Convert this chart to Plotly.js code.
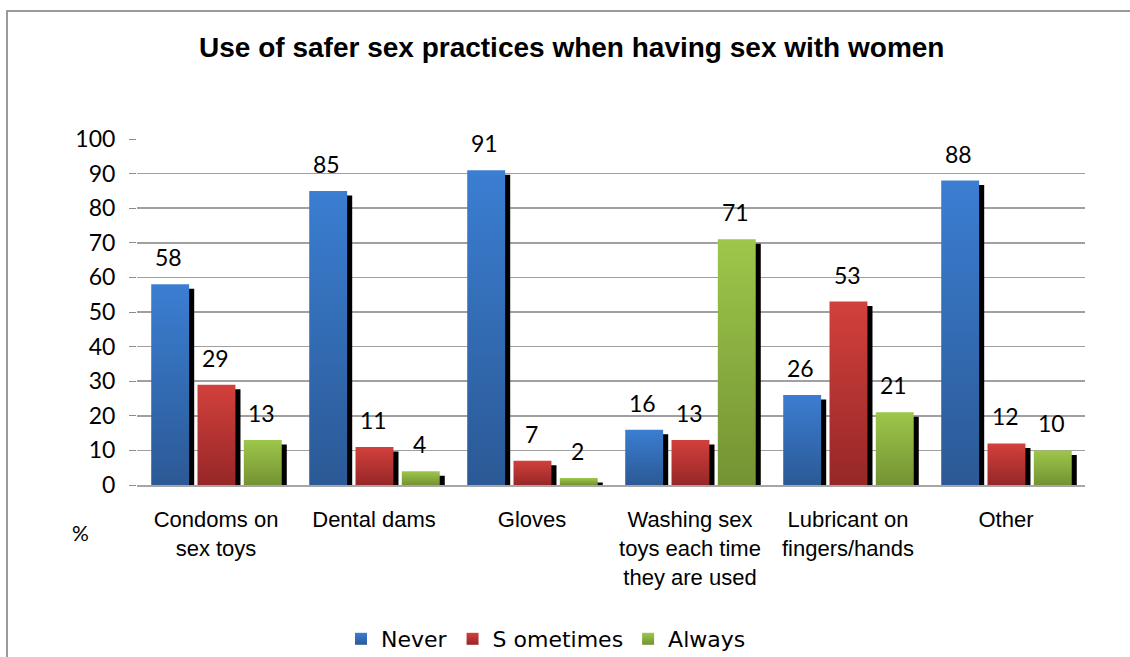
<!DOCTYPE html>
<html>
<head>
<meta charset="utf-8">
<script src="https://cdn.plot.ly/plotly-3.0.1.min.js"></script>
<style>
  html, body { margin: 0; padding: 0; background: #fff; }
  #frame { position: absolute; left: 6px; top: 10px; width: 1300px; height: 800px; border: 2px solid #9a9a9a; box-sizing: border-box; }
  #chart { position: absolute; left: 0; top: 0; width: 1130px; height: 657px; }
</style>
</head>
<body>
<div id="frame"></div>
<div id="chart"></div>
<script>
// ---- data ----
const categories = ["Condoms on<br>sex toys", "Dental dams", "Gloves", "Washing sex<br>toys each time<br>they are used", "Lubricant on<br>fingers/hands", "Other"];
const seriesNames = ["Never", "S ometimes", "Always"];
const never = [58, 85, 91, 16, 26, 88];
const sometimes = [29, 11, 7, 13, 53, 12];
const always = [13, 4, 2, 71, 21, 10];
const yTicks = [0, 10, 20, 30, 40, 50, 60, 70, 80, 90, 100];

// ---- styling ----
const values = [never, sometimes, always];
const baseColors = ["#3569b5", "#b93434", "#8aae42"];
const gradStops = [["#3b7ed2", "#2b5995"], ["#d2403c", "#962727"], ["#9dc74a", "#749233"]];
const barWidth = 0.24;
const offsets = [-0.41, -0.117, 0.176];
const shadowDx = 0.032;
const shadowDrop = 1.3;

const traces = [];
// shadows first (drawn behind)
values.forEach((vals, i) => {
  traces.push({
    type: "bar", x: categories, y: vals.map(v => Math.max(v - shadowDrop, 0.4)),
    width: barWidth, offset: offsets[i] + shadowDx,
    marker: { color: "#000000", line: { width: 0 } },
    showlegend: false, hoverinfo: "skip"
  });
});
values.forEach((vals, i) => {
  traces.push({
    type: "bar", name: seriesNames[i], x: categories, y: vals,
    width: barWidth, offset: offsets[i],
    marker: { color: baseColors[i], line: { width: 0 } },
    hoverinfo: "skip"
  });
});

const annotations = [];
values.forEach((vals, i) => {
  vals.forEach((v, j) => {
    annotations.push({
      xref: "x", yref: "y", x: j + offsets[i] + barWidth / 2 - 0.008, y: v,
      text: String(v), showarrow: false, yanchor: "bottom", xanchor: "center", yshift: 11,
      font: { family: "Lato, 'Open Sans', sans-serif", size: 23, color: "#000" }
    });
  });
});
annotations.push({
  xref: "paper", yref: "paper", x: (80 - 137) / 948, y: (485 - 532) / 346,
  text: "%", showarrow: false, xanchor: "center", yanchor: "middle",
  font: { family: "Lato, sans-serif", size: 21, color: "#000" }
});

const layout = {
  width: 1130, height: 657,
  margin: { l: 137, r: 45, t: 139, b: 172, pad: 0, autoexpand: false },
  paper_bgcolor: "rgba(0,0,0,0)", plot_bgcolor: "rgba(0,0,0,0)",
  barmode: "overlay",
  showlegend: true,
  title: {
    text: "<b>Use of safer sex practices when having sex with women</b>",
    x: 0.506, xref: "container", xanchor: "center",
    y: 1 - 47 / 657, yref: "container", yanchor: "middle",
    font: { family: "'Liberation Sans', Arial, sans-serif", size: 28, color: "#000" }
  },
  xaxis: {
    type: "category", range: [-0.5, 5.5], showgrid: false,
    showline: true, linecolor: "#a6a6a6", linewidth: 2,
    ticks: "", ticklabelstandoff: 14,
    tickfont: { family: "'Liberation Sans', Arial, sans-serif", size: 22, color: "#000" },
    fixedrange: true
  },
  yaxis: {
    range: [0, 100], tickvals: yTicks, ticktext: yTicks.map(String),
    showgrid: true, gridcolor: "#a0a0a0", gridwidth: 1.5,
    zeroline: false, showline: false,
    ticks: "outside", ticklen: 7, tickcolor: "#8c8c8c", tickwidth: 1,
    ticklabelstandoff: 9,
    tickfont: { family: "Lato, 'Open Sans', sans-serif", size: 23, color: "#000" },
    fixedrange: true
  },
  legend: {
    orientation: "h", x: (546 - 137) / 948, xanchor: "center",
    y: (485 - 639) / 346, yanchor: "middle",
    font: { family: "'DejaVu Sans', sans-serif", size: 22, color: "#000" },
    itemclick: false, itemdoubleclick: false
  },
  annotations: annotations
};

Plotly.newPlot("chart", traces, layout, { displayModeBar: false, staticPlot: true }).then(gd => {
  const svg = gd.querySelector(".main-svg");
  const ns = "http://www.w3.org/2000/svg";
  let defs = svg.querySelector("defs");
  if (!defs) { defs = document.createElementNS(ns, "defs"); svg.insertBefore(defs, svg.firstChild); }
  gradStops.forEach((stops, i) => {
    const lg = document.createElementNS(ns, "linearGradient");
    lg.setAttribute("id", "barGrad" + i);
    lg.setAttribute("x1", "0"); lg.setAttribute("y1", "0");
    lg.setAttribute("x2", "0"); lg.setAttribute("y2", "1");
    [[0, stops[0]], [1, stops[1]]].forEach(([o, c]) => {
      const s = document.createElementNS(ns, "stop");
      s.setAttribute("offset", String(o)); s.setAttribute("stop-color", c);
      lg.appendChild(s);
    });
    defs.appendChild(lg);
  });
  const barTraces = gd.querySelectorAll(".barlayer .trace");
  barTraces.forEach((t, idx) => {
    if (idx < 3) return;
    const gi = idx - 3;
    t.querySelectorAll(".point path").forEach(p => { p.style.fill = "url(#barGrad" + gi + ")"; });
  });
  gd.querySelectorAll(".legend .traces").forEach((t, gi) => {
    t.querySelectorAll(".legendpoints path").forEach(p => { p.style.fill = "url(#barGrad" + gi + ")"; });
  });
});
</script>
</body>
</html>
